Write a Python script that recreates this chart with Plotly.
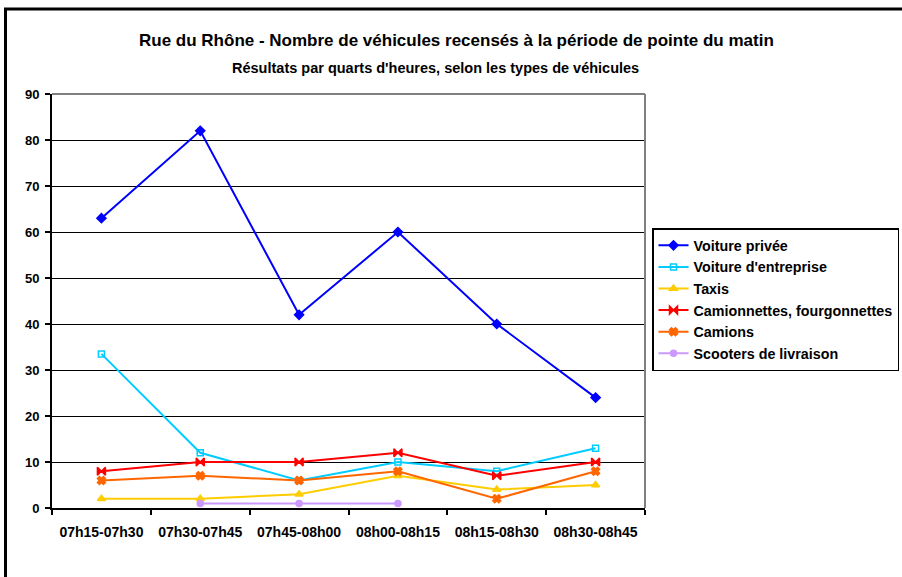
import plotly.graph_objects as go

categories = ["07h15-07h30", "07h30-07h45", "07h45-08h00", "08h00-08h15", "08h15-08h30", "08h30-08h45"]
voiture_privee = [63, 82, 42, 60, 40, 24]
voiture_entreprise = [33.5, 12, 6, 10, 8, 13]
taxis = [2, 2, 3, 7, 4, 5]
camionnettes = [8, 10, 10, 12, 7, 10]
camions = [6, 7, 6, 8, 2, 8]
scooters = [None, 1, 1, 1, None, None]
y_ticks = [0, 10, 20, 30, 40, 50, 60, 70, 80, 90]

FONT = "Liberation Sans, Arial, sans-serif"

series = [
    ("Voiture privée", voiture_privee, "#0000FF", "diamond", 7),
    ("Voiture d'entreprise", voiture_entreprise, "#00CCFF", "square-open", 6),
    ("Taxis", taxis, "#FFCC00", "triangle-up", 7),
    ("Camionnettes, fourgonnettes", camionnettes, "#FF0000", "bowtie", 8),
    ("Camions", camions, "#FF6600", "x", 7),
    ("Scooters de livraison", scooters, "#CC99FF", "circle", 6),
]

fig = go.Figure()
for name, vals, color, sym, size in series:
    fig.add_trace(go.Scatter(
        x=categories, y=vals, name=name, mode="lines+markers",
        line=dict(color=color, width=2),
        marker=dict(symbol=sym, size=size, color=color, line=dict(color=color, width=1.5)),
        connectgaps=False,
    ))

L, R, T, B = 52, 257, 94, 69
W, H = 902, 577
pw, ph = W - L - R, H - T - B

def px_x(p):
    return (p - L) / pw

def px_y(p):
    return (H - B - p) / ph

fig.update_layout(
    width=W, height=H,
    margin=dict(l=L, r=R, t=T, b=B, autoexpand=False),
    paper_bgcolor="white", plot_bgcolor="white",
    font=dict(family=FONT, color="black", size=12),
    showlegend=True,
    legend=dict(
        x=px_x(652), y=px_y(228), xanchor="left", yanchor="top",
        bordercolor="black", borderwidth=1.5, bgcolor="white",
        font=dict(family=FONT, size=14.3, color="black", weight="bold"),
        itemwidth=30, tracegroupgap=0,
    ),
    xaxis=dict(
        type="category", range=[-0.5, 5.5],
        showline=True, linecolor="black", linewidth=2,
        ticks="outside", tickson="boundaries", ticklen=5, tickcolor="black", tickwidth=2,
        showgrid=False, zeroline=False, tickangle=0, ticklabelstandoff=10,
        tickfont=dict(family=FONT, size=14, color="black", weight="bold"),
    ),
    yaxis=dict(
        range=[0, 90], tickvals=y_ticks,
        showline=True, linecolor="black", linewidth=2,
        ticks="outside", ticklen=5, tickcolor="black", tickwidth=2,
        showgrid=True, gridcolor="black", gridwidth=1,
        zeroline=False, ticklabelstandoff=3,
        tickfont=dict(family=FONT, size=13, color="black", weight="bold"),
    ),
    annotations=[
        dict(text="Rue du Rhône - Nombre de véhicules recensés à la période de pointe du matin",
             xref="paper", yref="paper", x=px_x(456), y=px_y(40), xanchor="center", yanchor="middle",
             showarrow=False, font=dict(family=FONT, size=17, color="black", weight="bold")),
        dict(text="Résultats par quarts d'heures, selon les types de véhicules",
             xref="paper", yref="paper", x=px_x(435), y=px_y(68), xanchor="center", yanchor="middle",
             showarrow=False, font=dict(family=FONT, size=14.5, color="black", weight="bold")),
    ],
    shapes=[
        dict(type="line", xref="paper", yref="paper", x0=0, x1=1, y0=1, y1=1,
             line=dict(color="#808080", width=2), layer="above"),
        dict(type="line", xref="paper", yref="paper", x0=1, x1=1, y0=0, y1=1,
             line=dict(color="#808080", width=2), layer="above"),
        dict(type="rect", xref="paper", yref="paper",
             x0=px_x(5.5), x1=px_x(W + 20), y0=px_y(H + 20), y1=px_y(9),
             line=dict(color="black", width=3), fillcolor="rgba(0,0,0,0)", layer="below"),
    ],
)

fig.write_html("out.html", config={"displayModeBar": False},
               post_script="document.body.style.margin='0';document.body.style.overflow='hidden';")
